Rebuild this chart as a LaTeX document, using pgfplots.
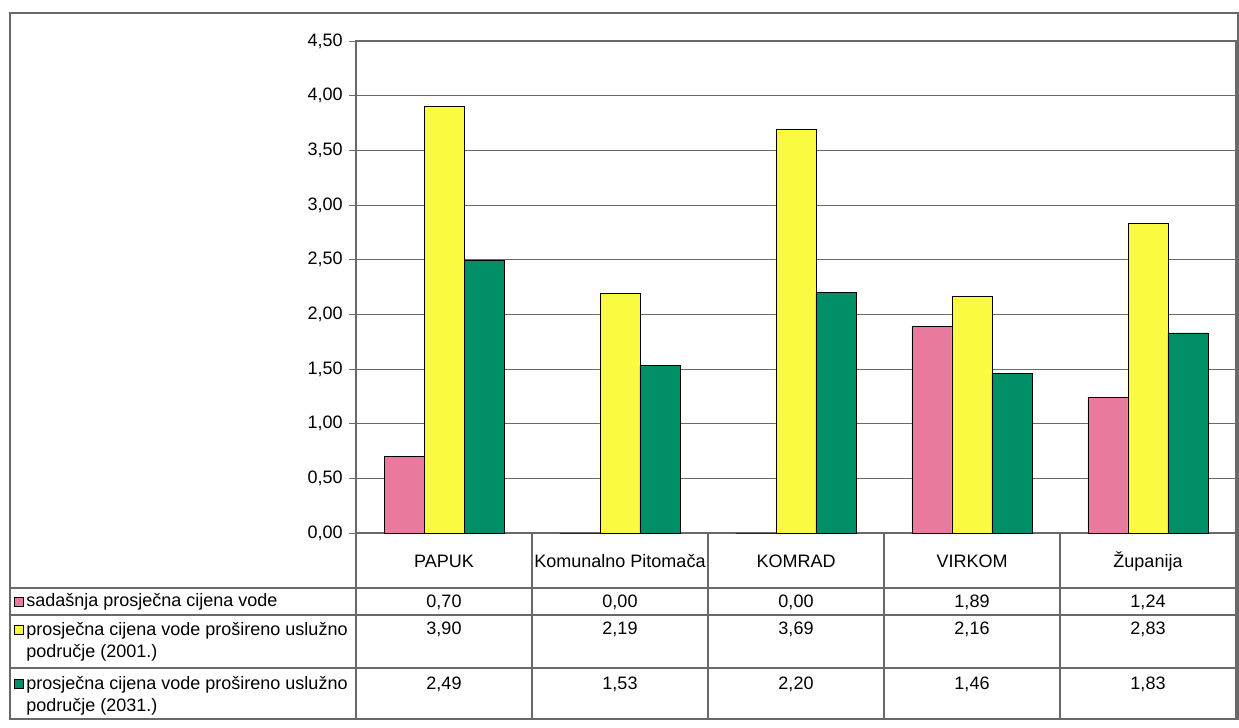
\documentclass[border=0pt]{standalone}
\usepackage{pgfplots}
\usepackage{pgfplotstable}
\pgfplotsset{compat=1.18}
\usepackage{fontspec}
\setmainfont{Liberation Sans}

\definecolor{barpink}{RGB}{232,122,158}
\definecolor{baryellow}{RGB}{250,250,64}
\definecolor{bargreen}{RGB}{0,142,102}
\definecolor{linegray}{RGB}{105,105,105}

% prices per supplier (kn/m3)
\pgfplotstableread{
idx pink yellow green
0 0.70 3.90 2.49
1 0.00 2.19 1.53
2 0.00 3.69 2.20
3 1.89 2.16 1.46
4 1.24 2.83 1.83
}\cijene

\pgfkeys{/pgf/number format/.cd, fixed, fixed zerofill, precision=2, use comma, assume math mode=true}

\begin{document}
\fontsize{9}{11}\selectfont
\begin{tikzpicture}
\path[use as bounding box] (0pt,0pt) rectangle (619.5pt,-364pt);
\begin{axis}[
  at={(178pt,-266.5pt)}, anchor=south west,
  scale only axis, width=440pt, height=246pt,
  ymin=0, ymax=4.5, ytick={0,0.5,1,1.5,2,2.5,3,3.5,4,4.5},
  xmin=-0.5, xmax=4.5, xtick=\empty,
  ybar=0pt, bar width=20pt,
  ymajorgrids, grid style={linegray, line width=0.5pt},
  axis line style={linegray, line width=0.6pt},
  tick style={linegray, line width=0.5pt},
  tick align=outside, ytick pos=left, major tick length=3.5pt,
  yticklabel style={font=\fontsize{9}{10}\selectfont},
  /pgf/number format/.cd, fixed, fixed zerofill, precision=2, use comma, assume math mode=true,
]
\addplot[draw=black, line width=0.4pt, fill=barpink] table[x=idx, y=pink] {\cijene};
\addplot[draw=black, line width=0.4pt, fill=baryellow] table[x=idx, y=yellow] {\cijene};
\addplot[draw=black, line width=0.4pt, fill=bargreen] table[x=idx, y=green] {\cijene};
\end{axis}

\begin{scope}[x=0.5pt,y=-0.5pt]
% outer frame and data table
\draw[linegray, line width=0.6pt] (10,13) rectangle (1238,719);
\foreach \xx in {356,532,708,884,1060,1236}
  \draw[linegray, line width=0.6pt] (\xx,533) -- (\xx,719);
\foreach \yy in {588,615,668}
  \draw[linegray, line width=0.6pt] (10,\yy) -- (1236,\yy);

% category names
\foreach \name [count=\i from 0] in {PAPUK,Komunalno Pitomača,KOMRAD,VIRKOM,Županija}
  \node at (444+176*\i,561) {\name};

% series names with colour keys
\draw[black, line width=0.4pt, fill=barpink] (14,597) rectangle (23,606);
\draw[black, line width=0.4pt, fill=baryellow] (14,625) rectangle (23,634);
\draw[black, line width=0.4pt, fill=bargreen] (14,679) rectangle (23,688);
\node[anchor=west, inner sep=0pt] at (26,602) {sadašnja prosječna cijena vode};
\node[anchor=north west, inner sep=0pt, align=left] at (26,622)
  {prosječna cijena vode prošireno uslužno\\područje (2001.)};
\node[anchor=north west, inner sep=0pt, align=left] at (26,676)
  {prosječna cijena vode prošireno uslužno\\područje (2031.)};

% values
\foreach \i in {0,...,4}{
  \pgfplotstablegetelem{\i}{pink}\of\cijene
  \node at (444+176*\i,602) {\pgfmathprintnumber{\pgfplotsretval}};
  \pgfplotstablegetelem{\i}{yellow}\of\cijene
  \node at (444+176*\i,629) {\pgfmathprintnumber{\pgfplotsretval}};
  \pgfplotstablegetelem{\i}{green}\of\cijene
  \node at (444+176*\i,684) {\pgfmathprintnumber{\pgfplotsretval}};
}
\end{scope}
\end{tikzpicture}
\end{document}
